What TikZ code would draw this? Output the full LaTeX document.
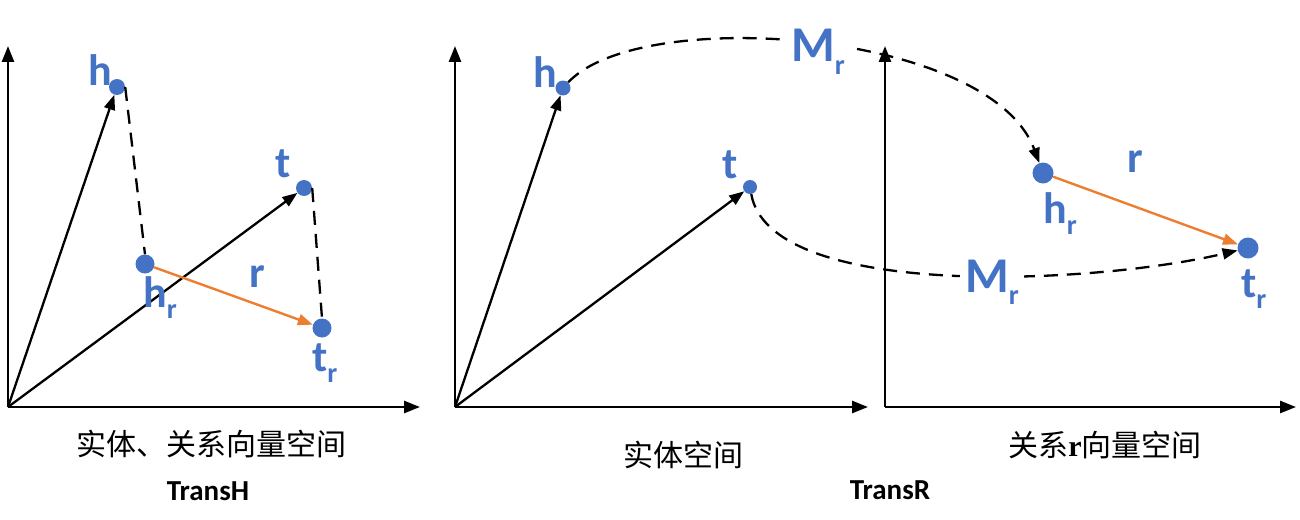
\documentclass[tikz,border=0pt]{standalone}
\usepackage{fontspec}
\setmainfont{Carlito}
\newfontfamily\cjkfont{Noto Sans CJK SC}
\newfontfamily\tnrfont{Liberation Serif}
\usetikzlibrary{arrows.meta}
\definecolor{lblue}{HTML}{4472C4}
\definecolor{lorange}{HTML}{ED7D31}
\newcommand{\lblsub}[2]{#1\raisebox{-0.25em}{\fontsize{28}{28}\selectfont #2}}
\begin{document}
\begin{tikzpicture}[x=1pt,y=-1pt,
  lbl/.style={text=lblue, font=\fontsize{44}{44}\selectfont\bfseries, inner sep=0pt, anchor=base west},
  mlbl/.style={lbl, font=\fontsize{50}{50}\selectfont\bfseries, fill=white, inner xsep=5pt},
  bdot/.style={circle, fill=lblue, inner sep=0pt, minimum size=#1},
  axis/.style={line width=2.6pt, -{Triangle[length=16pt,width=12pt]}},
  vec/.style={line width=2.3pt, -{Triangle[length=15pt,width=11pt]}},
  proj/.style={line width=2.3pt, dash pattern=on 14pt off 9pt},
  projarrow/.style={proj, -{Triangle[length=15pt,width=11pt]}},
  rel/.style={lorange, line width=2.4pt, -{Triangle[length=15pt,width=11pt]}},
  captext/.style={font=\cjkfont\fontsize{30}{30}\selectfont, inner sep=0pt},
  titletext/.style={font=\fontsize{29}{29}\selectfont\bfseries, inner sep=0pt}]
\useasboundingbox (0,0) rectangle (1300,519);

% ---------- panel 1 : TransH ----------
\coordinate (o1) at (8,407);
\coordinate (y1) at (8,46);
\coordinate (x1) at (420,407);
\draw[axis] (o1) -- (y1);
\draw[axis] (o1) -- (x1);
\node[bdot=16pt] (h1) at (117,87) {};
\node[bdot=16pt] (t1) at (304,188) {};
\node[bdot=19pt] (hr1) at (145,264) {};
\node[bdot=19pt] (tr1) at (322,328) {};
\draw[vec] (o1) -- (h1);
\draw[vec] (o1) -- (t1);
\draw[proj] (h1.east) -- (hr1.north);
\draw[proj] (t1.east) -- (tr1.north);
\draw[rel] (hr1) -- (tr1);
\node[lbl] (lh1) at (88,85) {h};
\node[lbl] (lt1) at (275,177) {t};
\node[lbl] (lhr1) at (143,307) {\lblsub{h}{r}};
\node[lbl] (lr1) at (249,287) {r};
\node[lbl] (ltr1) at (312,371) {\lblsub{t}{r}};
\node[captext] (c1) at (211,444) {实体、关系向量空间};
\node[titletext] (th) at (208,491) {TransH};

% ---------- panel 2 : TransR entity space ----------
\coordinate (o2) at (455,407);
\coordinate (y2) at (455,46);
\coordinate (x2) at (868,407);
\draw[axis] (o2) -- (y2);
\draw[axis] (o2) -- (x2);
\node[bdot=15pt] (h2) at (563,88) {};
\node[bdot=14pt] (t2) at (750,187) {};
\draw[vec] (o2) -- (h2);
\draw[vec] (o2) -- (t2);
\node[lbl] (lh2) at (533,88) {h};
\node[lbl] (lt2) at (722,178) {t};
\node[captext] (c2) at (683,455) {实体空间};
\node[titletext] (tr) at (890,490) {TransR};

% ---------- panel 3 : relation space ----------
\coordinate (o3) at (885,407);
\coordinate (y3) at (885,46);
\coordinate (x3) at (1296,407);
\draw[axis] (o3) -- (y3);
\draw[axis] (o3) -- (x3);
\node[bdot=21pt] (hr3) at (1043,173) {};
\node[bdot=21pt] (tr3) at (1248,248) {};
\draw[rel] (hr3) -- (tr3);
\node[lbl] (lr3) at (1127,172) {r};
\node[lbl] (lhr3) at (1043,223) {\lblsub{h}{r}};
\node[lbl] (ltr3) at (1241,297) {\lblsub{t}{r}};
\node[captext] (c3) at (1105,445) {关系{\tnrfont\bfseries r}向量空间};

% ---------- projections M_r ----------
\draw[projarrow] (h2) .. controls (640,5) and (990,30) .. (hr3);
\draw[projarrow] (t2) .. controls (770,300) and (1090,285) .. (tr3);
\node[mlbl] (m1) at (786,62) {\lblsub{M}{r}};
\node[mlbl] (m2) at (960,292) {\lblsub{M}{r}};
\end{tikzpicture}
\end{document}
